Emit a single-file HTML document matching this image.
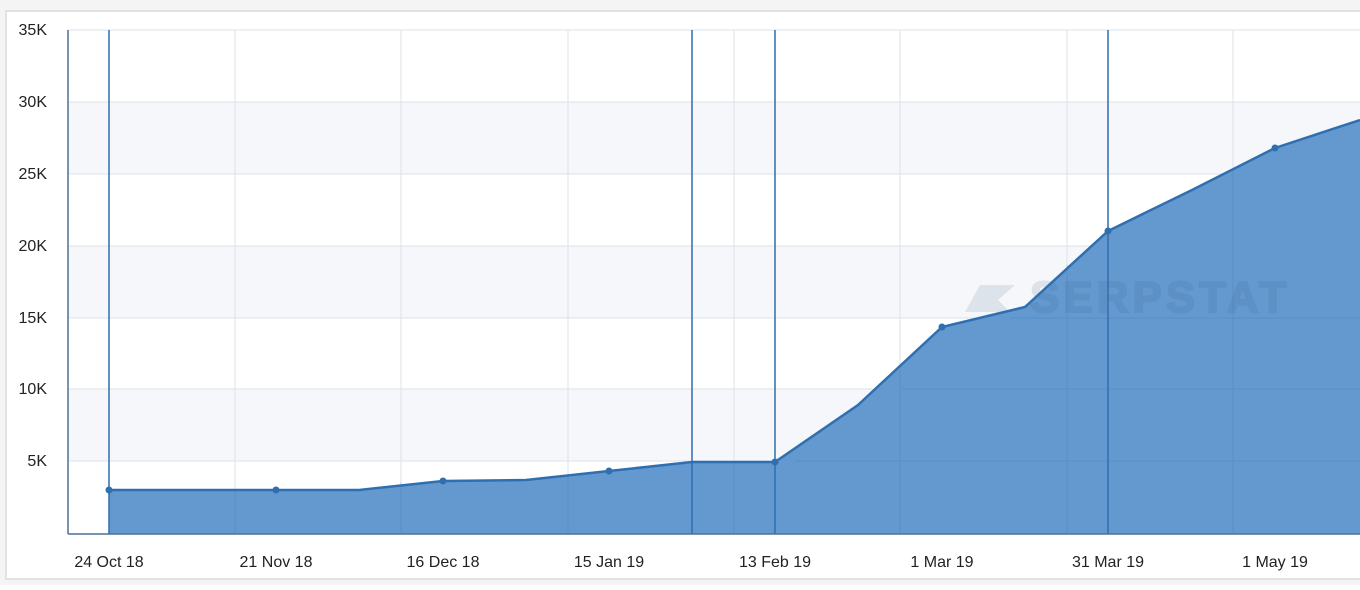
<!DOCTYPE html>
<html><head><style>
body{margin:0;background:#fff;width:1360px;height:585px;overflow:hidden;font-family:"Liberation Sans",sans-serif}
</style></head><body>
<svg width="1360" height="585" xmlns="http://www.w3.org/2000/svg">
<rect x="0" y="0" width="1360" height="585" fill="#f4f4f5"/>
<rect x="6" y="11" width="1360" height="568" fill="#fff" stroke="#e2e2e4" stroke-width="2"/>
<g fill="#f5f7fa">
<rect x="68" y="102" width="1292" height="72"/>
<rect x="68" y="246" width="1292" height="72"/>
<rect x="68" y="389" width="1292" height="72"/>
</g>
<g stroke="#dde3ea" stroke-width="1">
<line x1="68" y1="30" x2="1360" y2="30"/><line x1="68" y1="102" x2="1360" y2="102"/>
<line x1="68" y1="174" x2="1360" y2="174"/><line x1="68" y1="246" x2="1360" y2="246"/>
<line x1="68" y1="318" x2="1360" y2="318"/><line x1="68" y1="389" x2="1360" y2="389"/>
<line x1="68" y1="461" x2="1360" y2="461"/>
<line x1="235" y1="30" x2="235" y2="534"/><line x1="401" y1="30" x2="401" y2="534"/>
<line x1="568" y1="30" x2="568" y2="534"/><line x1="734" y1="30" x2="734" y2="534"/>
<line x1="900" y1="30" x2="900" y2="534"/><line x1="1067" y1="30" x2="1067" y2="534"/>
<line x1="1233" y1="30" x2="1233" y2="534"/>
</g>
<polygon points="109,534 109,490 276,490 359,490 443,481 526,480 609,471 692,462 775,462 858,405 942,327 1025,307 1108,231 1192,190 1275,148 1360,120 1360,534" fill="#6399cf"/>
<g stroke="#2f6fb0" stroke-width="1" opacity="0.22">
<line x1="900" y1="370" x2="900" y2="534"/><line x1="1067" y1="265" x2="1067" y2="534"/><line x1="1233" y1="170" x2="1233" y2="534"/>
<line x1="1010" y1="318" x2="1360" y2="318"/><line x1="902" y1="389" x2="1360" y2="389"/><line x1="795" y1="461" x2="1360" y2="461"/>
<line x1="235" y1="490" x2="235" y2="534"/><line x1="401" y1="482" x2="401" y2="534"/><line x1="568" y1="475" x2="568" y2="534"/><line x1="734" y1="462" x2="734" y2="534"/>
</g>
<g opacity="0.13" fill="#3a5a80">
<polygon points="980,285 1015,285 998,300 1010,312 965,312"/>
<text x="1030" y="312" font-size="44" font-weight="900" letter-spacing="4" stroke="#3a5a80" stroke-width="2">SERPSTAT</text>
</g>
<polyline points="109,490 276,490 359,490 443,481 526,480 609,471 692,462 775,462 858,405 942,327 1025,307 1108,231 1192,190 1275,148 1360,120" fill="none" stroke="#2f6fb0" stroke-width="2.5"/>
<g stroke="#2f6fb0" stroke-width="1.5">
<line x1="109" y1="30" x2="109" y2="534"/><line x1="692" y1="30" x2="692" y2="534"/>
<line x1="775" y1="30" x2="775" y2="534"/><line x1="1108" y1="30" x2="1108" y2="534"/>
</g>
<g stroke="#4f7196" stroke-width="1.5"><line x1="68" y1="30" x2="68" y2="534"/><line x1="68" y1="534" x2="1360" y2="534"/></g>
<g fill="#2f6fb0">
<circle cx="109" cy="490" r="3.5"/><circle cx="276" cy="490" r="3.5"/><circle cx="443" cy="481" r="3.5"/>
<circle cx="609" cy="471" r="3.5"/><circle cx="775" cy="462" r="3.5"/><circle cx="942" cy="327" r="3.5"/>
<circle cx="1108" cy="231" r="3.5"/><circle cx="1275" cy="148" r="3.5"/>
</g>
<g font-size="16" fill="#222" text-anchor="end">
<text x="47" y="35">35K</text><text x="47" y="107">30K</text><text x="47" y="179">25K</text>
<text x="47" y="251">20K</text><text x="47" y="323">15K</text><text x="47" y="394">10K</text><text x="47" y="466">5K</text>
</g>
<g font-size="16" fill="#222" text-anchor="middle">
<text x="109" y="567">24 Oct 18</text><text x="276" y="567">21 Nov 18</text><text x="443" y="567">16 Dec 18</text>
<text x="609" y="567">15 Jan 19</text><text x="775" y="567">13 Feb 19</text><text x="942" y="567">1 Mar 19</text>
<text x="1108" y="567">31 Mar 19</text><text x="1275" y="567">1 May 19</text>
</g>
</svg>
</body></html>
